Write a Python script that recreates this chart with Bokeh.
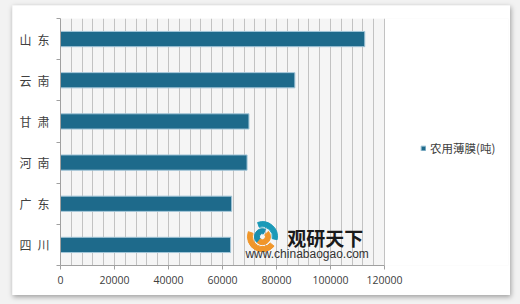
from bokeh.plotting import figure
from bokeh.models import (Range1d, FixedTicker, SingleIntervalTicker, Legend, LegendItem, Label,
                          BasicTickFormatter, BoxAnnotation)
from bokeh.layouts import column
from bokeh.embed import file_html
from bokeh.resources import INLINE

# ---- data (top to bottom as shown) ----
provinces = ["山东", "云南", "甘肃", "河南", "广东", "四川"]
film_tons = [112700, 86800, 69800, 69100, 63400, 63000]
series_name = "农用薄膜(吨)"
x_ticks = [0, 20000, 40000, 60000, 80000, 100000, 120000]

n = len(provinces)
ys = [n - 0.5 - i for i in range(n)]
boundaries = list(range(n + 1))

BAR = "#1e6a8b"
CJK = "Noto Sans CJK SC"

# the plot frame extends to the right so the legend can sit inside it;
# the value axis itself covers 324 px of the 448 px frame
FRAME_W = 448
AXIS_W = 324
x_end = x_ticks[-1] * FRAME_W / AXIS_W

p = figure(width=498, height=290,
           x_range=Range1d(x_ticks[0], x_end), y_range=Range1d(0, n),
           output_backend="svg", toolbar_location=None,
           min_border_left=48, min_border_right=2, min_border_top=13, min_border_bottom=30,
           margin=(5, 10, 9, 12),
           background_fill_color="white", border_fill_color="white",
           outline_line_color=None)
p.styles = {"box-shadow": "1px 2px 5px rgba(0,0,0,0.35)"}

# grey plotting area only up to the last tick
p.add_layout(BoxAnnotation(left=x_ticks[0], right=x_ticks[-1], fill_color="#f5f5f5",
                           fill_alpha=1, line_color=None, level="image"))

r = p.hbar(y=ys, right=film_tons, left=0, height=0.37,
           fill_color=BAR, line_color="#a3c6d8", line_width=1)

# x axis
p.xaxis.ticker = FixedTicker(ticks=x_ticks)
p.xaxis.formatter = BasicTickFormatter(use_scientific=False)
p.xaxis.bounds = (x_ticks[0], x_ticks[-1])
p.xaxis.major_label_text_font = "Open Sans"
p.xaxis.major_label_text_font_size = "10.5px"
p.xaxis.major_label_text_color = "#404040"
p.xaxis.axis_line_color = "#a0a0a0"
p.xaxis.major_tick_line_color = "#a0a0a0"
p.xaxis.major_tick_out = 4
p.xaxis.major_tick_in = 0
p.xaxis.minor_tick_line_color = None
p.xaxis.major_label_standoff = 6

# y axis: labels at centres, ticks at band boundaries
p.yaxis.ticker = FixedTicker(ticks=ys, minor_ticks=boundaries)
p.yaxis.major_label_overrides = {y: "\u2002".join(list(name)) for y, name in zip(ys, provinces)}
p.yaxis.major_label_text_font = CJK
p.yaxis.major_label_text_font_size = "12px"
p.yaxis.major_label_text_color = "#404040"
p.yaxis.axis_line_color = "#a0a0a0"
p.yaxis.major_tick_line_color = None
p.yaxis.major_tick_out = 0
p.yaxis.major_tick_in = 0
p.yaxis.minor_tick_line_color = "#a0a0a0"
p.yaxis.minor_tick_out = 4
p.yaxis.minor_tick_in = 0
p.yaxis.major_label_standoff = 7

# grid
p.xgrid.ticker = SingleIntervalTicker(interval=4000)
p.xgrid.bounds = (x_ticks[0], x_ticks[-1])
p.xgrid.grid_line_color = "#c2c2c2"
p.ygrid.grid_line_color = None

# watermark logo
LX, LY = 74800, 0.70
p.annular_wedge(x=[LX], y=[LY], inner_radius=10, outer_radius=15,
                inner_radius_units="screen", outer_radius_units="screen",
                start_angle=[-0.2], end_angle=[1.9], color="#1b9ab8")
p.annular_wedge(x=[LX], y=[LY], inner_radius=10, outer_radius=15,
                inner_radius_units="screen", outer_radius_units="screen",
                start_angle=[2.8], end_angle=[5.6], color="#f0962a")
p.annular_wedge(x=[LX], y=[LY], inner_radius=3, outer_radius=8,
                inner_radius_units="screen", outer_radius_units="screen",
                start_angle=[1.2], end_angle=[4.0], color="#1b8fae")
p.annular_wedge(x=[LX], y=[LY], inner_radius=3, outer_radius=8,
                inner_radius_units="screen", outer_radius_units="screen",
                start_angle=[4.0], end_angle=[7.0], color="#f0962a")
p.add_layout(Label(x=84000, y=0.69, text="观研天下", text_font=CJK, text_font_style="bold",
                   text_font_size="19px", text_baseline="middle", text_color="#1a1a1a"))
p.add_layout(Label(x=68500, y=0.28, text="www.chinabaogao.com", text_font="Liberation Sans",
                   text_font_size="12px", text_baseline="middle", text_color="#333333"))

# legend
legend = Legend(items=[LegendItem(label=series_name, renderers=[r])],
                location=(360, 109), padding=0, margin=0, spacing=0,
                border_line_color=None, background_fill_alpha=0,
                glyph_width=6, glyph_height=6, label_standoff=4,
                label_text_font=CJK, label_text_font_size="11.5px",
                label_text_color="#404040")
p.add_layout(legend)

layout = column(p, width=520, height=304, styles={"background-color": "#f2f2f2"})

open("out.html", "w").write(file_html(layout, INLINE))
